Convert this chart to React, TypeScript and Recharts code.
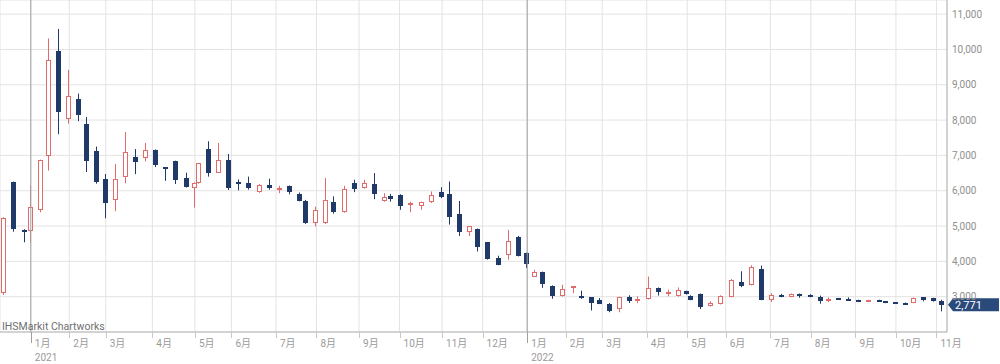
import { Bar, CartesianGrid, ComposedChart, ReferenceLine, XAxis, YAxis } from "recharts";

// weekly candles, dated by the last trading day of each week
const WEEK_ENDS = [
  "2020-12-11", "2020-12-18", "2020-12-25", "2020-12-30",
  "2021-01-08", "2021-01-15", "2021-01-22", "2021-01-29",
  "2021-02-05", "2021-02-12", "2021-02-19", "2021-02-26",
  "2021-03-05", "2021-03-12", "2021-03-19", "2021-03-26",
  "2021-04-02", "2021-04-09", "2021-04-16", "2021-04-23", "2021-04-30",
  "2021-05-07", "2021-05-14", "2021-05-21", "2021-05-28",
  "2021-06-04", "2021-06-11", "2021-06-18", "2021-06-25",
  "2021-07-02", "2021-07-09", "2021-07-16", "2021-07-21", "2021-07-30",
  "2021-08-06", "2021-08-13", "2021-08-20", "2021-08-27",
  "2021-09-03", "2021-09-10", "2021-09-17", "2021-09-24",
  "2021-10-01", "2021-10-08", "2021-10-15", "2021-10-22", "2021-10-29",
  "2021-11-05", "2021-11-12", "2021-11-19", "2021-11-26",
  "2021-12-03", "2021-12-10", "2021-12-17", "2021-12-24", "2021-12-30",
  "2022-01-07", "2022-01-14", "2022-01-21", "2022-01-28",
  "2022-02-04", "2022-02-10", "2022-02-18", "2022-02-25",
  "2022-03-04", "2022-03-11", "2022-03-18", "2022-03-25",
  "2022-04-01", "2022-04-08", "2022-04-15", "2022-04-22", "2022-04-28",
  "2022-05-06", "2022-05-13", "2022-05-20", "2022-05-27",
  "2022-06-03", "2022-06-10", "2022-06-17", "2022-06-24",
  "2022-07-01", "2022-07-08", "2022-07-15", "2022-07-22", "2022-07-29",
  "2022-08-05", "2022-08-12", "2022-08-19", "2022-08-26",
  "2022-09-02", "2022-09-09", "2022-09-16", "2022-09-22", "2022-09-30",
  "2022-10-07", "2022-10-14", "2022-10-21", "2022-10-28",
  "2022-11-04",
];

const OPEN = [
  3100, 6240, 4900, 4860, 5460, 6970, 9950, 8020, 8590, 7880, 7120, 6330,
  5730, 6400, 6950, 6920, 7160, 6660, 6840, 6360, 6080, 6210, 7180, 6510, 6870,
  6250, 6210, 5960, 6170, 6060, 6140, 5900, 5720, 5080, 5080, 5690, 5390, 6210,
  6070, 6190, 5700, 5860, 5880, 5630, 5580, 5670, 5950, 5900, 5340, 4820, 4910,
  4540, 4090, 4190, 4700, 4240, 3570, 3700, 3310, 3010, 3260, 3030, 2980, 2920,
  2800, 2650, 2990, 2930, 2940, 3250, 3110, 3010, 3150, 3030, 3080, 2730, 2790,
  2990, 3420, 3340, 3780, 2920, 3040, 2990, 3080, 3060, 2980, 2925, 2950, 2945,
  2905, 2880, 2905, 2870, 2840, 2830, 2822, 2980, 2962, 2887,
];
const HIGH = [
  5250, 6260, 4910, 6150, 6880, 10310, 10580, 9420, 8750, 8090, 7250, 6470,
  6760, 7660, 7180, 7350, 7170, 6670, 6850, 6510, 6230, 6790, 7400, 7350, 7040,
  6320, 6400, 6190, 6340, 6140, 6150, 5950, 5740, 5550, 6360, 5840, 6140, 6310,
  6310, 6500, 5930, 5910, 5900, 5690, 5690, 5980, 6100, 6260, 5710, 5000, 4930,
  4550, 4160, 4890, 4720, 4250, 3760, 3710, 3320, 3340, 3300, 3170, 2990, 2960,
  2820, 3000, 3040, 3010, 3570, 3260, 3200, 3260, 3170, 3040, 3090, 2870, 3040,
  3500, 3720, 3890, 3880, 3100, 3080, 3090, 3090, 3070, 3030, 2980, 2965, 2980,
  2915, 2910, 2915, 2875, 2845, 2835, 2975, 2990, 2970, 2915,
];
const LOW = [
  3050, 4840, 4540, 4520, 5390, 6570, 7600, 7900, 7970, 6530, 6200, 5220,
  5420, 6210, 6470, 6830, 6670, 6280, 6190, 6090, 5520, 6200, 6400, 6500, 6020,
  6010, 6030, 5940, 6030, 5930, 5900, 5700, 5060, 4990, 5060, 5350, 5380, 5960,
  6060, 5760, 5690, 5690, 5460, 5390, 5460, 5650, 5790, 5040, 4720, 4720, 4280,
  4050, 3890, 4050, 4140, 3810, 3560, 3250, 2940, 3000, 3100, 2940, 2610, 2790,
  2560, 2560, 2820, 2820, 2920, 3030, 3010, 3000, 3060, 2900, 2650, 2720, 2780,
  2980, 3270, 3320, 2900, 2850, 2985, 2985, 2970, 2985, 2800, 2850, 2905, 2900,
  2860, 2870, 2850, 2815, 2805, 2805, 2815, 2870, 2860, 2584,
];
const CLOSE = [
  5220, 4910, 4870, 5530, 6860, 9690, 8240, 8670, 8140, 6840, 6240, 5640,
  6340, 7110, 6810, 7140, 6730, 6640, 6290, 6100, 6210, 6780, 6510, 6870, 6090,
  6230, 6070, 6170, 6070, 6080, 5950, 5720, 5100, 5460, 5740, 5390, 6040, 6040,
  6210, 5900, 5810, 5760, 5580, 5650, 5680, 5880, 5810, 5270, 4830, 4990, 4400,
  4070, 3900, 4590, 4160, 3920, 3700, 3360, 3010, 3220, 3290, 2950, 2820, 2800,
  2600, 2990, 2890, 2940, 3250, 3130, 3130, 3200, 3080, 2920, 2700, 2820, 3030,
  3460, 3310, 3830, 2920, 3060, 2990, 3080, 3010, 2990, 2890, 2940, 2915, 2905,
  2870, 2905, 2860, 2820, 2810, 2812, 2962, 2915, 2868, 2771,
];

const LAST_PRICE = 2771;

const MONTHS = [
  "2021-01", "2021-02", "2021-03", "2021-04", "2021-05", "2021-06",
  "2021-07", "2021-08", "2021-09", "2021-10", "2021-11", "2021-12",
  "2022-01", "2022-02", "2022-03", "2022-04", "2022-05", "2022-06",
  "2022-07", "2022-08", "2022-09", "2022-10", "2022-11",
];

const Y_TICKS = [3000, 4000, 5000, 6000, 7000, 8000, 9000, 10000, 11000];

// Tokyo exchange closures (weekdays) in the plotted range
const HOLIDAYS = [
  "2020-12-31", "2021-01-01", "2021-01-11", "2021-02-11", "2021-02-23",
  "2021-04-29", "2021-05-03", "2021-05-04", "2021-05-05", "2021-07-22",
  "2021-07-23", "2021-08-09", "2021-09-20", "2021-09-23", "2021-11-03",
  "2021-11-23", "2021-12-31", "2022-01-03", "2022-01-10", "2022-02-11",
  "2022-02-23", "2022-03-21", "2022-04-29", "2022-05-03", "2022-05-04",
  "2022-05-05", "2022-07-18", "2022-08-11", "2022-09-19", "2022-09-23",
  "2022-10-10", "2022-11-03", "2022-11-23",
];

const NAVY = "#1f3a68";
const RED = "#e06b6b";
const FONT = "Roboto, 'Noto Sans CJK JP', sans-serif";

// trading-day axis: x = number of trading days since 2021-01-04
function buildCalendar(from: string, to: string) {
  const closed = new Set(HOLIDAYS);
  const out: string[] = [];
  const d = new Date(from + "T00:00:00Z");
  const end = new Date(to + "T00:00:00Z");
  while (d <= end) {
    const dow = d.getUTCDay();
    const s = d.toISOString().slice(0, 10);
    if (dow !== 0 && dow !== 6 && !closed.has(s)) out.push(s);
    d.setUTCDate(d.getUTCDate() + 1);
  }
  return out;
}
const CAL = buildCalendar("2020-12-01", "2022-11-30");
const ORIGIN = CAL.indexOf("2021-01-04");
const dayIndex = (s: string) => CAL.indexOf(s) - ORIGIN;

const data = WEEK_ENDS.map((d, i) => ({
  date: d,
  x: dayIndex(d) + 0.5,
  open: OPEN[i],
  high: HIGH[i],
  low: LOW[i],
  close: CLOSE[i],
  range: [LOW[i], HIGH[i]],
}));

const monthTicks = MONTHS.map((m) => ({
  value: dayIndex(CAL.find((d) => d.startsWith(m)) as string),
  label: `${Number(m.slice(5))}月`,
  year: m.endsWith("-01") ? m.slice(0, 4) : null,
}));
const yearStarts = monthTicks.filter((t) => t.year).map((t) => t.value);

function Candle(props: any) {
  const { x, y, width, height, payload } = props;
  if (x == null || !payload) return null;
  const { open, close, high, low } = payload;
  const up = close >= open;
  const top = Math.min(y, y + height);
  const k = high > low ? Math.abs(height) / (high - low) : 0;
  const py = (v: number) => top + (high - v) * k;
  const cx = Math.round(x + width / 2) + 0.5;
  const bTop = Math.round(py(Math.max(open, close)));
  let bBot = Math.round(py(Math.min(open, close)));
  if (bBot - bTop < 2) bBot = bTop + 2;
  const color = up ? RED : NAVY;
  return (
    <g>
      <line x1={cx} x2={cx} y1={py(high)} y2={bTop} stroke={color} strokeWidth={1} />
      <line x1={cx} x2={cx} y1={bBot} y2={py(low)} stroke={color} strokeWidth={1} />
      {up ? (
        <rect x={cx - 2} y={bTop + 0.5} width={4} height={bBot - bTop - 1} fill="#fff" stroke={RED} strokeWidth={1} />
      ) : (
        <rect x={cx - 2.5} y={bTop} width={5} height={bBot - bTop} fill={NAVY} />
      )}
    </g>
  );
}

function MonthTick(props: any) {
  const { x, y, payload } = props;
  const m = monthTicks.find((t) => t.value === payload.value);
  if (!m) return null;
  const lx = Math.round(x) + 0.5;
  return (
    <g>
      <line x1={lx} x2={lx} y1={y} y2={y + (m.year ? 11 : 6)} stroke={m.year ? "#a0a0a0" : "#c8c8c8"} />
      <text x={x + 4} y={y + 15} fill="#9a9a9a" fontSize={10} fontFamily={FONT}>
        {m.label}
      </text>
      {m.year && (
        <text x={x + 4} y={y + 29} fill="#9a9a9a" fontSize={10} fontFamily={FONT}>
          {m.year}
        </text>
      )}
    </g>
  );
}

function PriceTag(props: any) {
  const vb = props.viewBox;
  if (!vb) return null;
  const x0 = vb.x + vb.width;
  const y0 = vb.y;
  return (
    <g>
      <path
        d={`M${x0 + 1},${y0} L${x0 + 6},${y0 - 6.5} H999 V${y0 + 6.5} H${x0 + 6} Z`}
        fill="#2b4a7c"
      />
      <text x={x0 + 8} y={y0 + 4} fill="#fff" fontSize={11} fontFamily={FONT}>
        {LAST_PRICE.toLocaleString("en-US")}
      </text>
    </g>
  );
}

export default function App() {
  return (
    <div style={{ position: "relative", width: 1000, height: 364, background: "#fff" }}>
      <style>{"body{margin:0}"}</style>
      <ComposedChart width={1000} height={364} data={data} margin={{ top: 0, right: 0, bottom: 0, left: 0 }}>
        <CartesianGrid stroke="#e3e3e3" />
        <XAxis
          dataKey="x"
          type="number"
          domain={[-15.2, 452.2]}
          allowDataOverflow
          ticks={monthTicks.map((t) => t.value)}
          interval={0}
          height={32}
          tickLine={false}
          tickSize={0}
          tickMargin={0}
          axisLine={{ stroke: "#b4b4b4" }}
          tick={<MonthTick />}
        />
        <YAxis
          orientation="right"
          width={53}
          domain={[2000, 11400]}
          allowDataOverflow
          ticks={Y_TICKS}
          tickFormatter={(v: number) => v.toLocaleString("en-US")}
          tickLine={false}
          tickSize={0}
          tickMargin={5}
          axisLine={{ stroke: "#b4b4b4" }}
          tick={{ fill: "#8f8f8f", fontSize: 10, fontFamily: FONT, textAnchor: "start" }}
        />
        {yearStarts.map((v) => (
          <ReferenceLine key={v} x={v} stroke="#a0a0a0" />
        ))}
        <Bar dataKey="range" barSize={5} isAnimationActive={false} shape={(p: any) => <Candle {...p} />} />
        <ReferenceLine y={LAST_PRICE} stroke="none" label={(p: any) => <PriceTag {...p} />} />
      </ComposedChart>
      <div
        style={{
          position: "absolute",
          left: 2,
          top: 321,
          fontFamily: FONT,
          fontSize: 10.5,
          color: "#6f6f6f",
          lineHeight: "12px",
          pointerEvents: "none",
        }}
      >
        IHSMarkit Chartworks
      </div>
    </div>
  );
}
